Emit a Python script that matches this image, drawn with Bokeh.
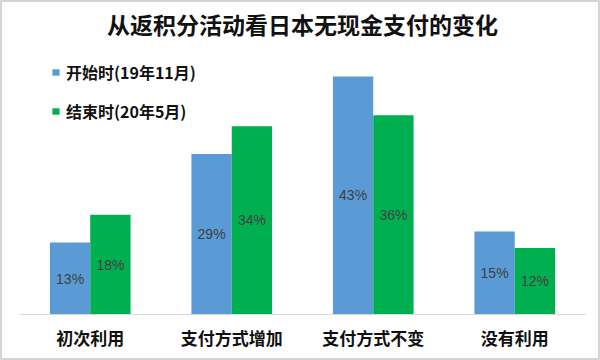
from bokeh.plotting import figure
from bokeh.models import FactorRange, Range1d, ColumnDataSource, Legend, LegendItem, Label
from bokeh.transform import dodge
from bokeh.core.properties import value
from bokeh.embed import file_html
from bokeh.resources import INLINE

# ---- data ----
categories = ["初次利用", "支付方式增加", "支付方式不变", "没有利用"]
series_names = ["开始时(19年11月)", "结束时(20年5月)"]
start_values = [13, 29, 43, 15]
end_values = [18, 34, 36, 12]
title_text = "从返积分活动看日本无现金支付的变化"

BLUE = "#5B9BD5"
GREEN = "#00B050"
CJK = "Noto Sans CJK SC"

src = ColumnDataSource(dict(
    cat=categories,
    start=start_values,
    end=end_values,
    start_mid=[v / 2 for v in start_values],
    end_mid=[v / 2 for v in end_values],
    start_lbl=[f"{v}%" for v in start_values],
    end_lbl=[f"{v}%" for v in end_values],
))

p = figure(width=596, height=356, x_range=FactorRange(*categories),
           y_range=Range1d(0, 56.36), output_backend="svg", toolbar_location=None,
           y_axis_location=None, min_border_left=17, min_border_right=17,
           min_border_top=0, min_border_bottom=48)
p.outline_line_color = None
p.grid.visible = False
p.background_fill_color = "white"
p.border_fill_color = "white"
p.styles = {"border": "2px solid #d4d4d4", "box-sizing": "content-box"}

w = 0.285
r1 = p.vbar(x=dodge("cat", -w / 2, range=p.x_range), top="start", width=w,
            source=src, fill_color=BLUE, line_color=None)
r2 = p.vbar(x=dodge("cat", w / 2, range=p.x_range), top="end", width=w,
            source=src, fill_color=GREEN, line_color=None)

for xo, yk, tk in [(-w / 2, "start_mid", "start_lbl"), (w / 2, "end_mid", "end_lbl")]:
    p.text(x=dodge("cat", xo, range=p.x_range), y=yk, text=tk, source=src,
           text_align="center", text_baseline="middle",
           text_font=value("Liberation Sans"), text_font_size="14px",
           text_color="#404040")

ax = p.xaxis[0]
ax.axis_line_color = "#d9d9d9"
ax.axis_line_width = 1
ax.major_tick_line_color = None
ax.minor_tick_line_color = None
ax.major_label_text_font = CJK
ax.major_label_text_font_size = "17px"
ax.major_label_text_font_style = "bold"
ax.major_label_text_color = "#111111"
ax.major_label_standoff = 4

legend = Legend(items=[LegendItem(label=series_names[0], renderers=[r1]),
                       LegendItem(label=series_names[1], renderers=[r2])],
                location=(32, 191), orientation="vertical",
                glyph_width=9, glyph_height=8, label_height=20, spacing=15,
                label_standoff=6, padding=0, margin=0,
                border_line_color=None, background_fill_alpha=0,
                label_text_font=CJK, label_text_font_size="16px",
                label_text_font_style="bold", label_text_color="#111111")
p.add_layout(legend, "center")

title = Label(x=2, y=52.4, text=title_text, text_align="center",
              text_baseline="middle", text_font=CJK, text_font_size="23px",
              text_font_style="bold", text_color="#111111")
p.add_layout(title)

open("out.html", "w").write(file_html(p, INLINE))
